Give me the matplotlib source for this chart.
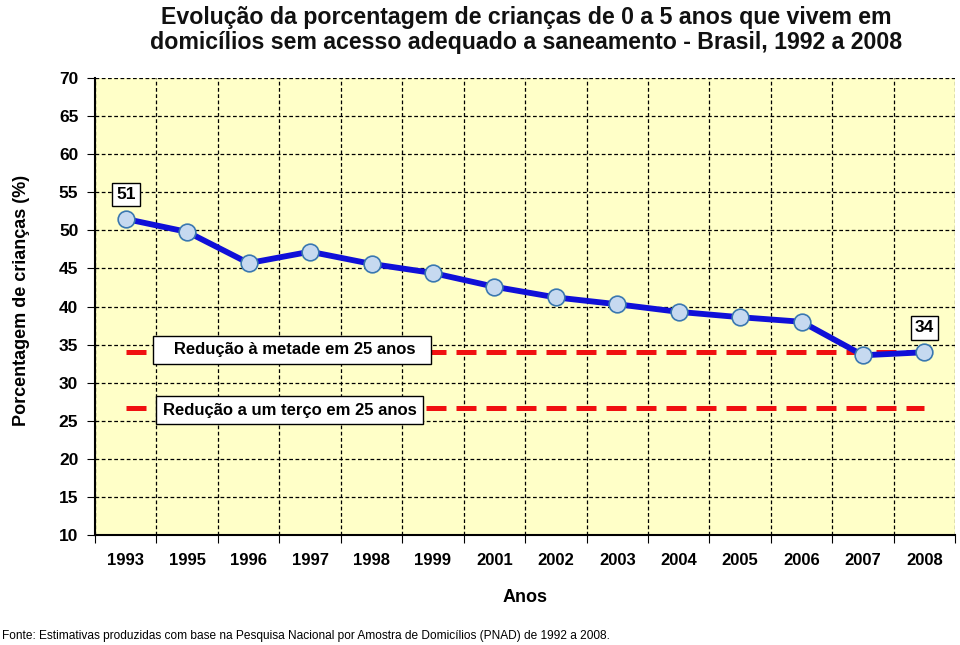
import matplotlib
matplotlib.use("Agg")
from matplotlib import pyplot as plt

anos = ["1993", "1995", "1996", "1997", "1998", "1999", "2001", "2002",
        "2003", "2004", "2005", "2006", "2007", "2008"]
porcentagem = [51.5, 49.8, 45.7, 47.2, 45.6, 44.4, 42.6, 41.2,
               40.3, 39.3, 38.6, 38.0, 33.6, 34.0]
meta_metade = 34.0
meta_terco = 26.7

plt.rcParams['font.family'] = ['Liberation Sans', 'DejaVu Sans']

fig = plt.figure(figsize=(9.6, 6.45), dpi=100)
ax = fig.add_axes([0.099, 0.1705, 0.896, 0.7085])
ax.set_facecolor('#ffffc8')

x = list(range(len(anos)))

# metas (linhas vermelhas tracejadas)
ax.plot([x[0], x[-1]], [meta_metade] * 2, color='#f01010', lw=3.6,
        dashes=(4.0, 2.0), zorder=3)
ax.plot([x[0], x[-1]], [meta_terco] * 2, color='#f01010', lw=3.6,
        dashes=(4.0, 2.0), zorder=3)

# serie principal
ax.plot(x, porcentagem, color='#1010d8', lw=4.2, marker='o', ms=12,
        markerfacecolor='#c6d9f0', markeredgecolor='#3a78b0',
        markeredgewidth=1.2, zorder=4)

box = dict(boxstyle='square,pad=0.25', facecolor='white', edgecolor='black', lw=1)
ax.text(x[0], porcentagem[0] + 3.2, "51", ha='center', va='center',
        fontsize=12.5, fontweight='bold', bbox=box, zorder=5)
ax.text(x[-1], porcentagem[-1] + 3.2, "34", ha='center', va='center',
        fontsize=12.5, fontweight='bold', bbox=box, zorder=5)
ax.text(0.55, meta_metade + 0.3, "   Redução à metade em 25 anos  ", ha='left',
        va='center', fontsize=12, fontweight='bold',
        bbox=dict(boxstyle='square,pad=0.4', facecolor='white', edgecolor='black', lw=1),
        zorder=5)
ax.text(0.6, meta_terco - 0.3, "Redução a um terço em 25 anos", ha='left',
        va='center', fontsize=12, fontweight='bold',
        bbox=dict(boxstyle='square,pad=0.4', facecolor='white', edgecolor='black', lw=1),
        zorder=5)

ax.set_xlim(-0.5, len(anos) - 0.5)
ax.set_ylim(10, 70)
ax.set_yticks(range(10, 71, 5))
ax.set_xticks([i - 0.5 for i in range(len(anos) + 1)])
ax.set_xticklabels([])
ax.set_xticks(x, minor=True)
ax.set_xticklabels(anos, minor=True, fontsize=12, fontweight='bold')
ax.tick_params(axis='x', which='major', length=6, color='black', direction='out')
ax.tick_params(axis='x', which='minor', length=0, pad=13)
ax.tick_params(axis='y', length=6, labelsize=12.5, pad=6)
for lbl in ax.get_yticklabels():
    lbl.set_fontweight('bold')

ax.grid(True, which='major', color='black', lw=0.9, linestyle=(0, (3, 2)))
ax.set_axisbelow(True)
for s in ['top', 'right']:
    ax.spines[s].set_visible(False)
ax.spines['left'].set_linewidth(1.5)
ax.spines['bottom'].set_linewidth(1.5)

ax.set_ylabel("Porcentagem de crianças (%)", fontsize=13, fontweight='bold')
ax.yaxis.set_label_coords(-0.076, 0.514)
ax.set_xlabel("Anos", fontsize=13, fontweight='bold', labelpad=15)

fig.text(0.548, 0.991, "Evolução da porcentagem de crianças de 0 a 5 anos que vivem em\n"
         "domicílios sem acesso adequado a saneamento - Brasil, 1992 a 2008",
         ha='center', va='top', fontsize=16.7, fontweight='bold', color='#111111',
         linespacing=1.12)
fig.text(0.002, 0.004, "Fonte: Estimativas produzidas com base na Pesquisa Nacional por "
         "Amostra de Domicílios (PNAD) de 1992 a 2008.", ha='left', va='bottom',
         fontsize=8.6)

fig.savefig("out.png", dpi=100)
